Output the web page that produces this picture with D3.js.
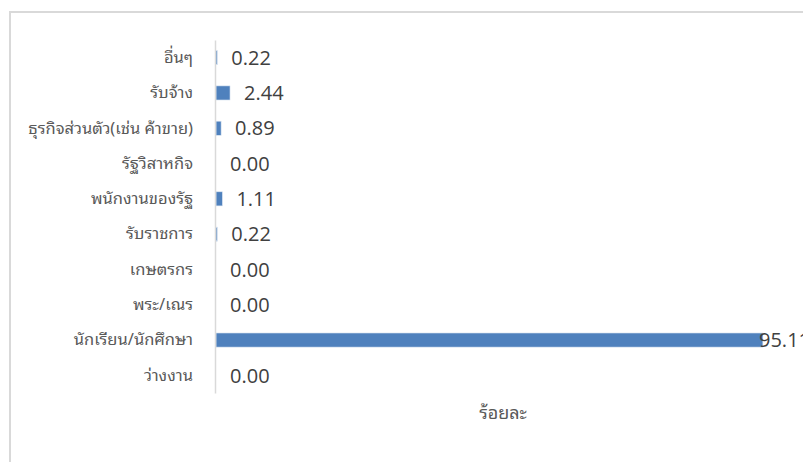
<!DOCTYPE html>
<html><head><meta charset="utf-8">
<script src="https://cdn.jsdelivr.net/npm/d3@7"></script>
<style>body{margin:0;background:#fff;overflow:hidden}</style>
</head><body>
<svg id="c" width="803" height="462"></svg>
<script>
const categories = ["อื่นๆ","รับจ้าง","ธุรกิจส่วนตัว(เช่น ค้าขาย)","รัฐวิสาหกิจ","พนักงานของรัฐ","รับราชการ","เกษตรกร","พระ/เณร","นักเรียน/นักศึกษา","ว่างงาน"];
const values = [0.22, 2.44, 0.89, 0.00, 1.11, 0.22, 0.00, 0.00, 95.11, 0.00];
const valueLabels = ["0.22","2.44","0.89","0.00","1.11","0.22","0.00","0.00","95.11","0.00"];
const axisTitle = "ร้อยละ";

const svg = d3.select("#c");
const thai = "'Noto Sans Thai Looped','Noto Serif Thai','Noto Sans Thai','Tahoma','Noto Sans',sans-serif";
const num = "'Open Sans','Noto Sans',sans-serif";

// chart frame
svg.append("rect").attr("x",10).attr("y",12).attr("width",820).attr("height",470)
  .attr("fill","#fff").attr("stroke","#d9d9d9").attr("stroke-width",2);

const x = d3.scaleLinear().domain([0,100]).range([216,791]);
const y = d3.scaleBand().domain(categories).range([40,393]).paddingInner(0.6).paddingOuter(0.3);

// bars
svg.selectAll("rect.bar").data(categories).join("rect").attr("class","bar")
  .attr("x",x(0)).attr("y",d=>y(d))
  .attr("width",(d,i)=>x(values[i])-x(0)).attr("height",y.bandwidth())
  .attr("fill","#4f81bd").attr("stroke","#dce6f2").attr("stroke-width",0.6);

// axis line
const ax = svg.append("g").attr("transform",`translate(${x(0)-1},0)`)
  .call(d3.axisLeft(y).tickSize(0).tickPadding(22));
ax.select(".domain").attr("stroke","#d9d9d9").attr("stroke-width",1.5);
ax.selectAll("text").attr("font-family",thai).attr("font-size",16.5).attr("fill","#595959");

// value labels
svg.selectAll("text.val").data(categories).join("text").attr("class","val")
  .attr("x",(d,i)=>Math.min(x(values[i])+14, 759))
  .attr("y",d=>y(d)+y.bandwidth()/2).attr("dy","0.36em")
  .attr("font-family",num).attr("font-size",20).attr("fill","#404040")
  .text((d,i)=>valueLabels[i]);

// axis title
svg.append("text").attr("x",503).attr("y",419).attr("text-anchor","middle")
  .attr("font-family",thai).attr("font-size",18).attr("fill","#595959").text(axisTitle);
</script>
</body></html>
